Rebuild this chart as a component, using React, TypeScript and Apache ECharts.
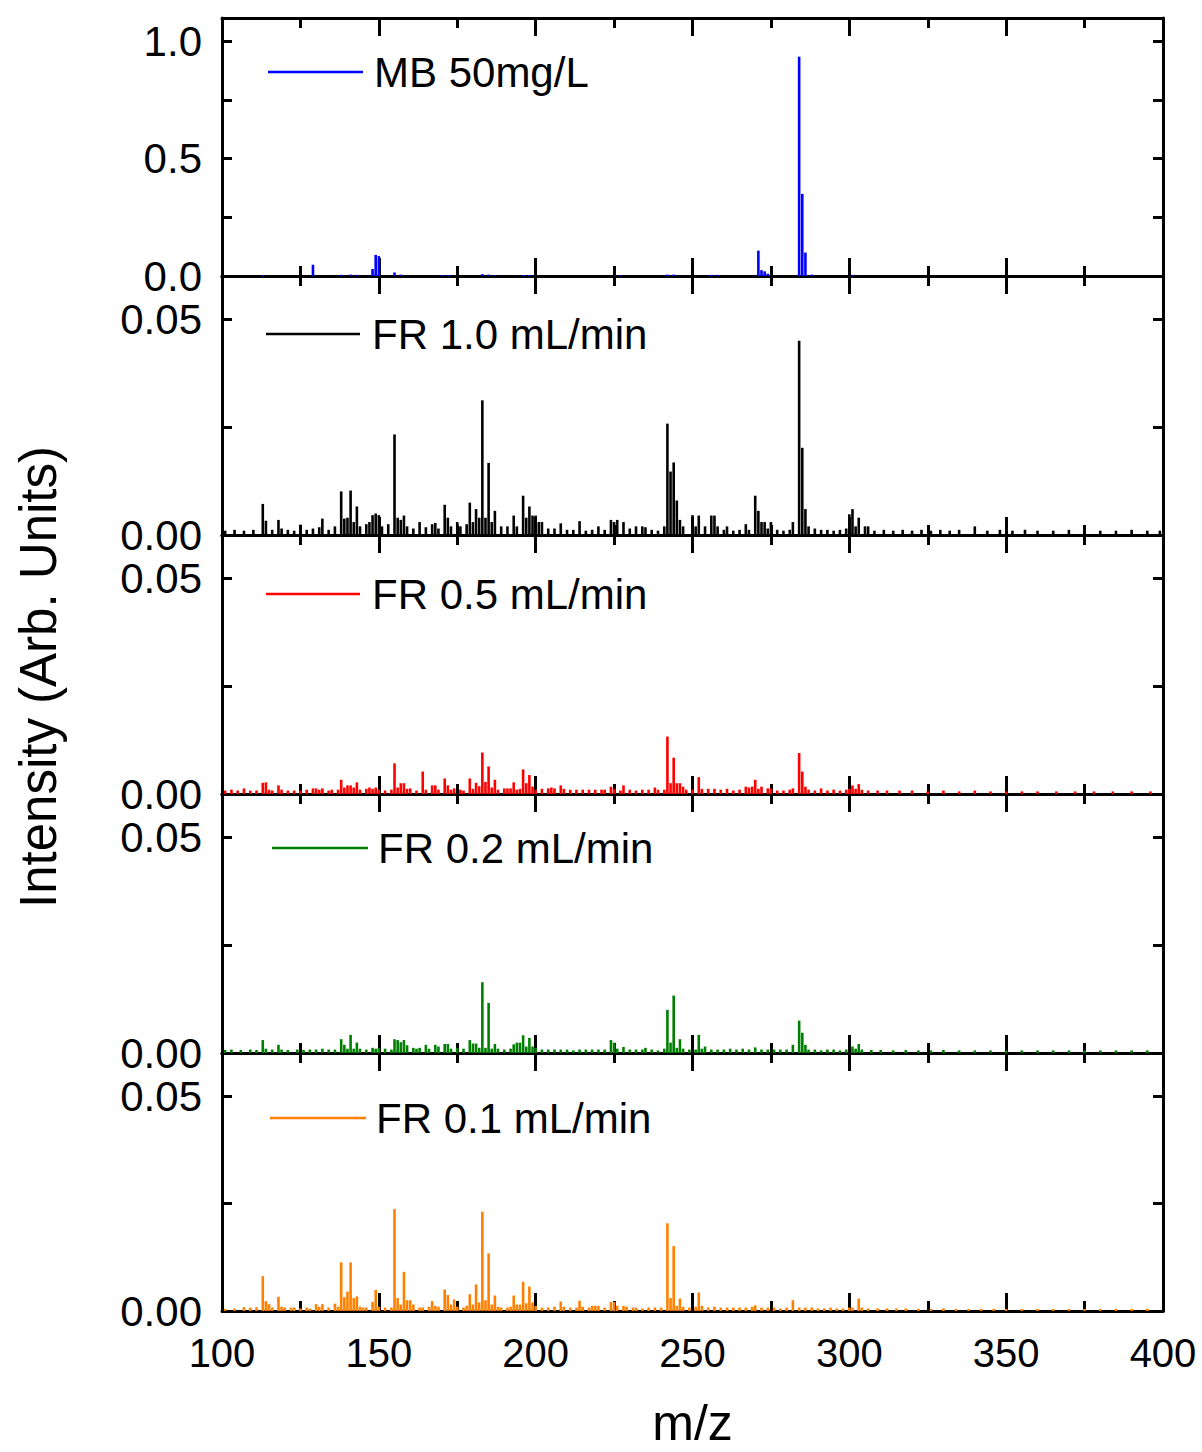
import React, { useEffect, useRef } from "react";
import * as echarts from "echarts";

// ---------- data ----------
const xMin = 100;
const xMax = 400;
const xTickInterval = 50;

const seriesNames = ["MB 50mg/L", "FR 1.0 mL/min", "FR 0.5 mL/min", "FR 0.2 mL/min", "FR 0.1 mL/min"];
const seriesColors = ["#0000ff", "#000000", "#ff0000", "#008000", "#ff8000"];
const yMaxes = [1.1, 0.06, 0.06, 0.06, 0.06];
const yIntervals = [0.25, 0.025, 0.025, 0.025, 0.025];
const yLabelValues = [[0, 0.5, 1.0], [0, 0.05], [0, 0.05], [0, 0.05], [0, 0.05]];
const yLabelDigits = [1, 2, 2, 2, 2];

const mb50: [number, number][] = [
  [113, 0.004], [129, 0.048], [138, 0.005], [141, 0.006], [143, 0.005], [148, 0.03], [149, 0.09], [150, 0.085],
  [155, 0.015], [157, 0.006], [170, 0.004], [172, 0.004], [183, 0.008], [185, 0.006], [187, 0.004], [196, 0.004],
  [198, 0.004], [227, 0.004], [242, 0.006], [244, 0.006], [256, 0.005], [258, 0.005], [271, 0.108], [272, 0.025],
  [273, 0.02], [274, 0.01], [284, 0.935], [285, 0.35], [286, 0.1], [288, 0.006], [301, 0.005],
];

const fr10: [number, number][] = [
  [101, 0.001], [104, 0.0012], [107, 0.001], [110, 0.0012], [113, 0.0072], [114, 0.0033], [116, 0.0012], [118, 0.0035],
  [119, 0.0015], [121, 0.0012], [123, 0.001], [125, 0.0024], [127, 0.0012], [129, 0.0015], [131, 0.0018], [132, 0.0038],
  [134, 0.0012], [136, 0.002], [138, 0.0101], [139, 0.0038], [140, 0.004], [141, 0.0103], [142, 0.003], [143, 0.0066],
  [144, 0.002], [146, 0.0025], [147, 0.003], [148, 0.0046], [149, 0.005], [150, 0.0046], [151, 0.002], [153, 0.0025],
  [155, 0.0233], [156, 0.004], [157, 0.0035], [158, 0.0045], [159, 0.002], [161, 0.0015], [163, 0.003], [165, 0.0018],
  [167, 0.0025], [168, 0.0028], [169, 0.0015], [171, 0.007], [172, 0.004], [173, 0.002], [175, 0.003], [176, 0.002],
  [178, 0.0025], [179, 0.0075], [180, 0.003], [181, 0.006], [182, 0.004], [183, 0.0312], [184, 0.004], [185, 0.0167],
  [186, 0.003], [187, 0.0056], [189, 0.002], [191, 0.002], [193, 0.0045], [194, 0.002], [196, 0.0091], [197, 0.004],
  [198, 0.0066], [199, 0.0045], [200, 0.0045], [201, 0.003], [202, 0.003], [204, 0.0015], [206, 0.0015], [208, 0.0027],
  [210, 0.0012], [212, 0.0012], [214, 0.0032], [216, 0.001], [218, 0.0012], [220, 0.002], [222, 0.0012], [224, 0.0035],
  [225, 0.003], [226, 0.0035], [228, 0.003], [230, 0.0015], [232, 0.002], [234, 0.002], [235, 0.0018], [237, 0.0012],
  [239, 0.001], [241, 0.002], [242, 0.0258], [243, 0.0147], [244, 0.0168], [245, 0.008], [246, 0.0035], [247, 0.002],
  [250, 0.0046], [251, 0.002], [252, 0.0045], [254, 0.002], [256, 0.0045], [257, 0.0045], [258, 0.002], [260, 0.0012],
  [261, 0.002], [263, 0.001], [265, 0.0012], [267, 0.0025], [268, 0.0012], [270, 0.0091], [271, 0.0056], [272, 0.003],
  [273, 0.003], [274, 0.0015], [275, 0.003], [277, 0.0012], [279, 0.001], [281, 0.0012], [282, 0.003], [284, 0.045],
  [285, 0.0202], [286, 0.006], [287, 0.002], [289, 0.0015], [291, 0.0012], [293, 0.0012], [295, 0.001], [297, 0.0012],
  [299, 0.0015], [300, 0.0048], [301, 0.006], [302, 0.002], [303, 0.004], [305, 0.002], [306, 0.002], [308, 0.001],
  [311, 0.0012], [314, 0.001], [317, 0.0012], [320, 0.001], [323, 0.0012], [326, 0.001], [329, 0.0012], [332, 0.001],
  [335, 0.0012], [340, 0.002], [344, 0.001], [348, 0.0012], [352, 0.001], [356, 0.0012], [360, 0.001], [365, 0.001],
  [370, 0.0012], [375, 0.001], [380, 0.001], [385, 0.001], [390, 0.0012], [395, 0.001], [399, 0.001],
];

const fr05: [number, number][] = [
  [101, 0.0008], [103, 0.001], [105, 0.0008], [107, 0.0013], [109, 0.0008], [111, 0.0008], [113, 0.0026], [114, 0.0027],
  [115, 0.001], [116, 0.0008], [118, 0.002], [119, 0.001], [121, 0.0008], [123, 0.0008], [125, 0.0008], [127, 0.001],
  [129, 0.0013], [130, 0.0013], [131, 0.001], [132, 0.0013], [134, 0.0008], [135, 0.001], [137, 0.001], [138, 0.0033],
  [139, 0.0015], [140, 0.002], [141, 0.002], [142, 0.0015], [143, 0.0027], [144, 0.001], [146, 0.0012], [147, 0.0015],
  [148, 0.0012], [149, 0.0015], [150, 0.001], [152, 0.0008], [154, 0.001], [155, 0.0071], [156, 0.0015], [157, 0.0025],
  [158, 0.0025], [159, 0.0012], [160, 0.0013], [162, 0.0008], [164, 0.0052], [165, 0.001], [167, 0.002], [168, 0.002],
  [169, 0.001], [171, 0.0036], [172, 0.002], [173, 0.001], [174, 0.0013], [176, 0.001], [177, 0.0008], [179, 0.0036],
  [180, 0.0012], [181, 0.0026], [182, 0.0018], [183, 0.0096], [184, 0.0028], [185, 0.0064], [186, 0.0015], [187, 0.0033],
  [188, 0.001], [190, 0.0013], [191, 0.0013], [192, 0.0013], [193, 0.0027], [194, 0.001], [195, 0.0012], [196, 0.0057],
  [197, 0.0025], [198, 0.0044], [199, 0.0017], [200, 0.001], [202, 0.0012], [204, 0.0013], [205, 0.0015], [206, 0.0013],
  [208, 0.002], [209, 0.0012], [211, 0.001], [213, 0.001], [215, 0.001], [217, 0.001], [219, 0.001], [221, 0.001],
  [222, 0.001], [224, 0.0017], [225, 0.0012], [227, 0.0008], [228, 0.002], [230, 0.001], [232, 0.0008], [234, 0.001],
  [236, 0.001], [238, 0.0015], [239, 0.001], [241, 0.001], [242, 0.0133], [243, 0.0025], [244, 0.0084], [245, 0.0025],
  [246, 0.0025], [247, 0.0017], [248, 0.001], [250, 0.001], [252, 0.0039], [253, 0.0012], [255, 0.0012], [257, 0.0012],
  [259, 0.001], [261, 0.0012], [263, 0.0008], [265, 0.001], [267, 0.0017], [268, 0.0015], [269, 0.0017], [270, 0.0033],
  [271, 0.0012], [272, 0.0017], [274, 0.0013], [275, 0.0013], [277, 0.0008], [279, 0.0008], [281, 0.001], [282, 0.0013],
  [284, 0.0095], [285, 0.0052], [286, 0.0017], [287, 0.001], [289, 0.0008], [291, 0.0013], [293, 0.0008], [295, 0.001],
  [297, 0.0008], [299, 0.001], [300, 0.0012], [301, 0.002], [302, 0.0012], [303, 0.0023], [304, 0.001], [306, 0.0008],
  [309, 0.0008], [312, 0.0008], [316, 0.0008], [320, 0.0008], [325, 0.0006], [330, 0.0008], [335, 0.0006], [340, 0.0008],
  [345, 0.0006], [350, 0.0006], [355, 0.0006], [360, 0.0006], [366, 0.0006], [372, 0.0006], [378, 0.0006], [384, 0.0006],
  [390, 0.0006], [396, 0.0006],
];

const fr02: [number, number][] = [
  [101, 0.0007], [103, 0.0008], [106, 0.0007], [109, 0.0008], [111, 0.0007], [113, 0.003], [114, 0.001], [116, 0.0008],
  [118, 0.0019], [119, 0.0008], [121, 0.0007], [124, 0.0008], [126, 0.0007], [128, 0.0008], [130, 0.0008], [132, 0.001],
  [134, 0.0008], [136, 0.0008], [138, 0.0032], [139, 0.0019], [140, 0.001], [141, 0.0042], [142, 0.001], [143, 0.0024],
  [144, 0.001], [146, 0.0008], [148, 0.0012], [149, 0.001], [150, 0.0012], [152, 0.001], [154, 0.0008], [155, 0.0032],
  [156, 0.003], [157, 0.0025], [158, 0.003], [159, 0.0018], [161, 0.0012], [162, 0.001], [163, 0.0012], [165, 0.0019],
  [166, 0.001], [168, 0.0019], [169, 0.0015], [171, 0.0021], [172, 0.0021], [173, 0.001], [175, 0.0012], [177, 0.001],
  [179, 0.003], [180, 0.0022], [181, 0.0022], [182, 0.0012], [183, 0.0164], [184, 0.0012], [185, 0.0116], [186, 0.001],
  [187, 0.0021], [188, 0.001], [190, 0.0008], [192, 0.001], [193, 0.002], [194, 0.0024], [195, 0.0024], [196, 0.0041],
  [197, 0.0015], [198, 0.0035], [199, 0.0015], [200, 0.0012], [202, 0.0008], [204, 0.0008], [206, 0.0008], [208, 0.0008],
  [210, 0.0008], [212, 0.0006], [214, 0.0008], [216, 0.0008], [218, 0.0008], [220, 0.0008], [222, 0.0008], [224, 0.003],
  [225, 0.0024], [226, 0.001], [228, 0.0014], [230, 0.0008], [232, 0.0008], [234, 0.0008], [235, 0.0012], [237, 0.0008],
  [239, 0.0006], [241, 0.001], [242, 0.01], [243, 0.0024], [244, 0.0133], [245, 0.0012], [246, 0.0032], [247, 0.001],
  [249, 0.0008], [251, 0.0008], [252, 0.0042], [253, 0.001], [254, 0.0015], [256, 0.0008], [258, 0.0008], [260, 0.0008],
  [262, 0.001], [264, 0.0008], [266, 0.001], [268, 0.0008], [270, 0.0013], [272, 0.0008], [274, 0.0008], [276, 0.0008],
  [278, 0.0008], [280, 0.0008], [282, 0.0019], [284, 0.0075], [285, 0.0047], [286, 0.0019], [287, 0.0008], [289, 0.0008],
  [291, 0.0006], [293, 0.0008], [295, 0.0008], [297, 0.0006], [299, 0.0008], [301, 0.0015], [302, 0.001], [303, 0.0021],
  [304, 0.0008], [307, 0.0007], [310, 0.0007], [314, 0.0006], [318, 0.0007], [322, 0.0006], [326, 0.0006], [330, 0.0007],
  [335, 0.0006], [340, 0.0006], [345, 0.0006], [350, 0.0006], [355, 0.0006], [360, 0.0006], [365, 0.0006], [370, 0.0006],
  [375, 0.0006], [380, 0.0006], [385, 0.0006], [390, 0.0006], [395, 0.0006],
];

const fr01: [number, number][] = [
  [101, 0.0005], [104, 0.0006], [107, 0.0009], [109, 0.0008], [111, 0.0009], [113, 0.0081], [114, 0.0023], [115, 0.0016],
  [116, 0.0008], [118, 0.0033], [119, 0.001], [120, 0.0008], [122, 0.0008], [123, 0.0008], [125, 0.0006], [127, 0.0008],
  [128, 0.0006], [130, 0.0016], [131, 0.001], [132, 0.0016], [134, 0.0008], [136, 0.0017], [137, 0.001], [138, 0.0113],
  [139, 0.0032], [140, 0.0045], [141, 0.0113], [142, 0.003], [143, 0.0034], [144, 0.001], [145, 0.0008], [146, 0.0008],
  [148, 0.0021], [149, 0.0049], [150, 0.001], [152, 0.0008], [154, 0.0008], [155, 0.0237], [156, 0.003], [157, 0.0015],
  [158, 0.0091], [159, 0.0025], [160, 0.0025], [161, 0.0015], [163, 0.0008], [164, 0.0008], [166, 0.001], [167, 0.0023],
  [168, 0.0012], [169, 0.001], [171, 0.005], [172, 0.0037], [173, 0.0015], [174, 0.0027], [175, 0.001], [177, 0.0008],
  [178, 0.0012], [179, 0.0039], [180, 0.0015], [181, 0.0062], [182, 0.002], [183, 0.0231], [184, 0.0025], [185, 0.0134],
  [186, 0.0015], [187, 0.0036], [188, 0.001], [189, 0.0008], [191, 0.0008], [192, 0.001], [193, 0.0036], [194, 0.0015],
  [195, 0.0015], [196, 0.0068], [197, 0.0018], [198, 0.0057], [199, 0.002], [200, 0.0012], [202, 0.0008], [204, 0.0008],
  [206, 0.001], [208, 0.0022], [209, 0.001], [211, 0.0008], [213, 0.0008], [214, 0.0024], [215, 0.001], [217, 0.0008],
  [218, 0.0012], [219, 0.0012], [220, 0.0012], [222, 0.0008], [224, 0.0021], [225, 0.0021], [226, 0.0012], [228, 0.0012],
  [229, 0.001], [231, 0.0008], [232, 0.0008], [234, 0.0006], [236, 0.0008], [238, 0.0008], [240, 0.0008], [242, 0.0204],
  [243, 0.003], [244, 0.0151], [245, 0.0012], [246, 0.0029], [247, 0.001], [249, 0.0008], [251, 0.001], [252, 0.0043],
  [253, 0.0012], [255, 0.0008], [257, 0.001], [259, 0.0008], [261, 0.0008], [263, 0.0008], [265, 0.0008], [267, 0.0008],
  [269, 0.001], [270, 0.0013], [272, 0.0008], [274, 0.0008], [276, 0.0008], [278, 0.0006], [280, 0.0008], [282, 0.0025],
  [284, 0.0008], [286, 0.0008], [288, 0.0008], [290, 0.0006], [292, 0.0006], [294, 0.0008], [296, 0.0006], [298, 0.0006],
  [300, 0.0008], [301, 0.0008], [303, 0.0029], [304, 0.0008], [306, 0.0006], [309, 0.0006], [312, 0.0006], [315, 0.0006],
  [318, 0.0006], [322, 0.0005], [326, 0.0005], [330, 0.0006], [334, 0.0005], [338, 0.0005], [342, 0.0005], [346, 0.0005],
  [350, 0.0005], [355, 0.0005], [360, 0.0005], [365, 0.0005], [370, 0.0005], [375, 0.0005], [380, 0.0005], [385, 0.0005],
  [390, 0.0005], [395, 0.0005],
];

const allSeries = [mb50, fr10, fr05, fr02, fr01];

// ---------- layout ----------
const FONT = '"Liberation Sans", Arial, Helvetica, sans-serif';
const PLOT_LEFT = 222;
const PLOT_RIGHT = 1163;
const PANEL_EDGES = [18, 276, 535, 794, 1053, 1311];
const LEGEND_POS = [
  { x1: 268, x2: 363, y: 72, tx: 374 },
  { x1: 266, x2: 360, y: 334, tx: 372 },
  { x1: 266, x2: 360, y: 594, tx: 372 },
  { x1: 272, x2: 368, y: 848, tx: 378 },
  { x1: 270, x2: 366, y: 1118, tx: 376 },
];

function buildOption() {
  const n = allSeries.length;
  const grids: any[] = [];
  const xAxes: any[] = [];
  const yAxes: any[] = [];
  const series: any[] = [];
  const graphics: any[] = [];
  const axisLineStyle = { color: "#000", width: 3 };

  for (let i = 0; i < n; i++) {
    const top = PANEL_EDGES[i];
    const height = PANEL_EDGES[i + 1] - top;
    grids.push({ left: PLOT_LEFT, width: PLOT_RIGHT - PLOT_LEFT, top, height, containLabel: false });
    const isLast = i === n - 1;
    const xCommon = {
      type: "value",
      gridIndex: i,
      min: xMin,
      max: xMax,
      interval: xTickInterval,
      axisLine: { show: true, onZero: false, lineStyle: axisLineStyle },
      axisTick: { show: true, inside: true, length: 18, lineStyle: { color: "#000", width: 3 } },
      minorTick: { show: true, splitNumber: 2, length: 10, lineStyle: { color: "#000", width: 3 } },
      splitLine: { show: false },
      minorSplitLine: { show: false },
    };
    xAxes.push({
      ...xCommon,
      position: "bottom",
      axisLabel: {
        show: isLast,
        margin: 22,
        color: "#000",
        fontSize: 40,
        fontFamily: FONT,
        formatter: (v: number) => String(v),
      },
    });
    xAxes.push({ ...xCommon, position: "top", axisLabel: { show: false } });

    const labelVals = yLabelValues[i];
    const digits = yLabelDigits[i];
    const yCommon = {
      type: "value",
      gridIndex: i,
      min: 0,
      max: yMaxes[i],
      interval: yIntervals[i],
      axisLine: { show: true, onZero: false, lineStyle: axisLineStyle },
      axisTick: { show: true, inside: true, length: 10, lineStyle: { color: "#000", width: 3 } },
      splitLine: { show: false },
    };
    yAxes.push({
      ...yCommon,
      position: "left",
      axisLabel: {
        show: true,
        margin: 20,
        color: "#000",
        fontSize: 42,
        fontFamily: FONT,
        showMaxLabel: false,
        formatter: (v: number) => {
          for (const lv of labelVals) if (Math.abs(v - lv) < 1e-9) return lv.toFixed(digits);
          return "";
        },
      },
    });
    yAxes.push({ ...yCommon, position: "right", axisLabel: { show: false } });

    series.push({
      type: "bar",
      name: seriesNames[i],
      xAxisIndex: i * 2,
      yAxisIndex: i * 2,
      data: allSeries[i],
      barWidth: 2.6,
      itemStyle: { color: seriesColors[i] },
      emphasis: { disabled: true },
      z: 3,
    });

    const lp = LEGEND_POS[i];
    graphics.push({
      type: "line",
      shape: { x1: lp.x1, y1: lp.y, x2: lp.x2, y2: lp.y },
      style: { stroke: seriesColors[i], lineWidth: 2.5 },
      silent: true,
    });
    graphics.push({
      type: "text",
      x: lp.tx,
      y: lp.y,
      style: {
        text: seriesNames[i],
        fill: "#000",
        fontSize: 42,
        fontFamily: FONT,
        align: "left",
        verticalAlign: "middle",
      },
      silent: true,
    });
  }

  graphics.push({
    type: "text",
    x: 38,
    y: 677,
    rotation: Math.PI / 2,
    style: {
      text: "Intensity (Arb. Units)",
      fill: "#000",
      fontSize: 51,
      fontFamily: FONT,
      align: "center",
      verticalAlign: "middle",
    },
    silent: true,
  });
  graphics.push({
    type: "text",
    x: (PLOT_LEFT + PLOT_RIGHT) / 2,
    y: 1423,
    style: {
      text: "m/z",
      fill: "#000",
      fontSize: 50,
      fontFamily: FONT,
      align: "center",
      verticalAlign: "middle",
    },
    silent: true,
  });

  return {
    animation: false,
    backgroundColor: "#ffffff",
    grid: grids,
    xAxis: xAxes,
    yAxis: yAxes,
    series,
    graphic: graphics,
  };
}

export default function App() {
  const ref = useRef<HTMLDivElement>(null);
  useEffect(() => {
    document.body.style.margin = "0";
    const el = ref.current!;
    const chart = echarts.init(el, null, { renderer: "svg" });
    chart.setOption(buildOption());
    return () => chart.dispose();
  }, []);
  return <div ref={ref} style={{ width: 1202, height: 1452, background: "#fff" }} />;
}
